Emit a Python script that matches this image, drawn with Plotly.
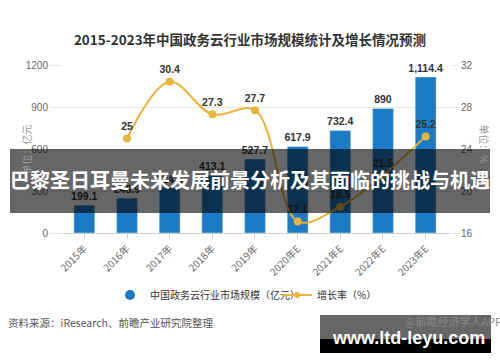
import plotly.graph_objects as go

years = ["2015年", "2016年", "2017年", "2018年", "2019年", "2020年E", "2021年E", "2022年E", "2023年E"]
market_size = [199.1, 248.9, 324.6, 413.1, 527.7, 617.9, 732.4, 890, 1114.4]
size_labels = ["199.1", "248.9", "324.6", "413.1", "527.7", "617.9", "732.4", "890", "1,114.4"]
growth_years = years[1:]
growth_rate = [25, 30.4, 27.3, 27.7, 17.1, 18.5, 21.5, 25.2]
growth_labels = ["25", "30.4", "27.3", "27.7", "17.1", "18.5", "21.5", "25.2"]
left_ticks = [0, 300, 600, 900, 1200]
right_ticks = [16, 20, 24, 28, 32]

W, H = 500, 362
L, R, T, B = 63, 450, 65, 233
FONT = "Liberation Sans, Noto Sans CJK SC, sans-serif"
CJK = "Noto Sans CJK SC, Liberation Sans, sans-serif"
BLUE = "#1b7bc4"
GOLD = "#e8b43c"
GRID = "#e6e6e6"


def fx(px):
    return (px - L) / (R - L)


def fy(py):
    return (B - py) / (B - T)


fig = go.Figure()
fig.add_trace(go.Bar(
    x=years, y=market_size, text=size_labels, textposition="outside",
    textangle=0, constraintext="none",
    textfont=dict(size=10.5, color="#333", family=FONT, weight="bold"),
    marker=dict(color=BLUE), width=0.49, cliponaxis=False, showlegend=False,
))
fig.add_trace(go.Scatter(
    x=growth_years, y=growth_rate, yaxis="y2", mode="lines+markers+text",
    text=growth_labels, textposition="top center",
    textfont=dict(size=10.5, color="#333", family=FONT, weight="bold"),
    line=dict(color=GOLD, width=2, shape="spline", smoothing=1),
    marker=dict(color=GOLD, size=8), cliponaxis=False, showlegend=False,
))
# legend-only entries
fig.add_trace(go.Scatter(
    x=[None], y=[None], mode="markers", name="中国政务云行业市场规模（亿元）",
    marker=dict(color=BLUE, size=10, symbol="circle"),
))
fig.add_trace(go.Scatter(
    x=[None], y=[None], mode="lines+markers", name="增长率（%）", yaxis="y2",
    line=dict(color=GOLD, width=2), marker=dict(color=GOLD, size=6),
))

fig.update_layout(
    width=W, height=H,
    margin=dict(l=L, r=W - R, t=T, b=H - B, autoexpand=False),
    paper_bgcolor="white", plot_bgcolor="white",
    font=dict(family=FONT, size=10, color="#666"),
    title=dict(text="2015-2023年中国政务云行业市场规模统计及增长情况预测",
               x=0.5, xanchor="center", y=1 - 40 / H, yanchor="middle",
               font=dict(family=CJK, size=13.5, color="#333", weight="bold")),
    xaxis=dict(tickangle=-45, ticks="outside", ticklen=5, tickcolor="#ccc",
               showline=True, linecolor="#ccc", linewidth=1, automargin=False,
               tickfont=dict(size=10, color="#666", family=CJK)),
    yaxis=dict(range=[0, 1200], tickvals=left_ticks, showgrid=True, gridcolor=GRID,
               ticks="outside", ticklen=12, tickcolor=GRID, zeroline=False,
               automargin=False, tickfont=dict(size=10, color="#666")),
    yaxis2=dict(range=[16, 32], tickvals=right_ticks, overlaying="y", side="right",
                showgrid=False, ticks="outside", ticklen=8, tickcolor=GRID,
                zeroline=False, automargin=False, tickfont=dict(size=10, color="#666")),
    legend=dict(orientation="h", x=fx(110), xanchor="left", y=fy(295), yanchor="middle",
                entrywidth=122, entrywidthmode="pixels",
                font=dict(family=CJK, size=10, color="#333"), bgcolor="rgba(0,0,0,0)"),
    bargap=0.5,
)

annotations = [
    dict(x=fx(16), y=fy(150), text="单位：亿元", textangle=-90, showarrow=False,
         font=dict(family=CJK, size=10, color="#999")),
    dict(x=fx(494), y=fy(144), text="单位：%", textangle=90, showarrow=False,
         font=dict(family=CJK, size=10, color="#999")),
    dict(x=fx(6), y=fy(322), xanchor="left", yanchor="middle", showarrow=False,
         text="资料来源：<span style='color:#d33'>i</span>Research、前瞻产业研究院整理",
         font=dict(family=CJK, size=10.5, color="#555")),
    dict(x=fx(403), y=fy(321), xanchor="left", yanchor="middle", showarrow=False,
         text="@前瞻经济学人APP", font=dict(family=CJK, size=11, color="#888")),
]
for a in annotations:
    a.update(xref="paper", yref="paper")
fig.update_layout(annotations=annotations)

shapes = [
    dict(type="rect", x0=fx(10), x1=fx(490), y0=fy(149), y1=fy(213),
         fillcolor="rgba(0,0,0,0.6)", line=dict(width=0), layer="above"),
    dict(type="rect", x0=fx(320), x1=fx(491), y0=fy(315), y1=fy(339),
         fillcolor="rgba(0,0,0,0.6)", line=dict(width=0), layer="above"),
    dict(type="rect", x0=fx(320), x1=fx(491), y0=fy(339), y1=fy(353),
         fillcolor="black", line=dict(width=0), layer="above"),
]
for s in shapes:
    s.update(xref="paper", yref="paper")
fig.update_layout(shapes=shapes)

fig.add_annotation(x=fx(250), y=fy(196), xref="paper", yref="paper", showarrow=False,
                   text="<b>巴黎圣日耳曼未来发展前景分析及其面临的挑战与机遇</b>",
                   font=dict(family=CJK, size=20, color="white"))
fig.add_annotation(x=fx(330), y=fy(338), xref="paper", yref="paper", showarrow=False,
                   xanchor="left", yanchor="middle",
                   text="<b>www.ltd-leyu.com</b>",
                   font=dict(family="Liberation Sans, sans-serif", size=18, color="white"))

fig.write_html(
    "out.html",
    config={"displayModeBar": False},
    post_script="document.body.style.margin='0';document.body.style.overflow='hidden';",
)
